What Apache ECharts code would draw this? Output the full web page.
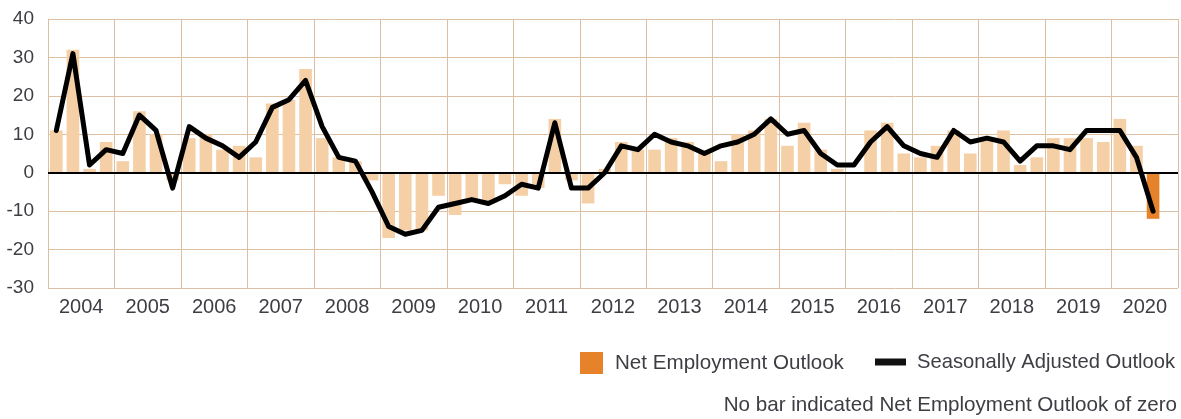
<!DOCTYPE html>
<html>
<head>
<meta charset="utf-8">
<script src="https://cdn.jsdelivr.net/npm/echarts@6/dist/echarts.min.js"></script>
<style>
  html, body { margin: 0; padding: 0; background: #fff; }
  #outlook { width: 1181px; height: 419px; }
</style>
</head>
<body>
<div id="outlook"></div>
<script>
// years on the label axis, each split into four quarters
var years = ['2004', '2005', '2006', '2007', '2008', '2009', '2010', '2011', '2012',
  '2013', '2014', '2015', '2016', '2017', '2018', '2019', '2020']
var quarterNames = ['Q1', 'Q2', 'Q3', 'Q4']

// Net Employment Outlook (bars), 2004 Q1 .. 2020 Q3
var netOutlook = [
  11, 32, 1, 8,
  3, 16, 10, -2,
  9, 10, 6, 7,
  4, 18, 19, 27,
  9, 4, 3, -2,
  -17, -15, -15, -6,
  -11, -7, -8, -3,
  -6, -4, 14, -2,
  -8, 1, 8, 6,
  6, 9, 8, 5,
  3, 10, 11, 14,
  7, 13, 6, 1,
  0, 11, 13, 5,
  4, 7, 11, 5,
  9, 11, 2, 4,
  9, 9, 9, 8,
  14, 7, -12, null
]

// Seasonally Adjusted Outlook (line)
var adjustedOutlook = [
  11, 31, 2, 6,
  5, 15, 11, -4,
  12, 9, 7, 4,
  8, 17, 19, 24,
  12, 4, 3, -5,
  -14, -16, -15, -9,
  -8, -7, -8, -6,
  -3, -4, 13, -4,
  -4, 0, 7, 6,
  10, 8, 7, 5,
  7, 8, 10, 14,
  10, 11, 5, 2,
  2, 8, 12, 7,
  5, 4, 11, 8,
  9, 8, 3, 7,
  7, 6, 11, 11,
  11, 4, -10, null
]

var yTicks = [-30, -20, -10, 0, 10, 20, 30, 40]

var quarters = []
years.forEach(function (y) {
  quarterNames.forEach(function (q) { quarters.push(y + ' ' + q) })
})

var fontName = 'Liberation Sans'
var textColor = '#3d3d44'
var gridColor = '#dcbfa2'
var lightBar = '#f5cfa5'
var strongBar = '#e5822a'

var chart = echarts.init(document.getElementById('outlook'))

// the latest quarter is the highlighted (orange) one
var lastIndex = 0
netOutlook.forEach(function (v, i) { if (v !== null) lastIndex = i })

var barData = netOutlook.map(function (v, i) {
  return {
    value: v,
    itemStyle: { color: i === lastIndex ? strongBar : lightBar }
  }
})

var options = {
  animation: false,
  grid: {
    left: 48,
    right: 3,
    top: 19,
    bottom: 131,
    containLabel: false
  },
  legend: [
    {
      data: ['Net Employment Outlook'],
      left: 580,
      top: 352,
      padding: 0,
      itemWidth: 23,
      itemHeight: 22,
      icon: 'rect',
      textStyle: { fontFamily: fontName, fontSize: 20.6, color: textColor, padding: [0, 0, 0, 7] }
    },
    {
      data: ['Seasonally Adjusted Outlook'],
      left: 875,
      top: 352,
      padding: 0,
      itemWidth: 31,
      itemHeight: 7,
      icon: 'rect',
      itemStyle: { color: '#111' },
      textStyle: { fontFamily: fontName, fontSize: 20.2, color: textColor, padding: [0, 0, 0, 6] }
    }
  ],
  title: {
    text: 'No bar indicated Net Employment Outlook of zero',
    right: 4,
    top: 395,
    padding: 0,
    textStyle: { fontFamily: fontName, fontSize: 20.6, fontWeight: 'normal', color: textColor }
  },
  xAxis: [
    {
      // quarterly axis carrying the data
      type: 'category',
      data: quarters,
      boundaryGap: true,
      axisLine: { show: false },
      axisTick: { show: false },
      axisLabel: { show: false },
      splitLine: { show: false }
    },
    {
      // yearly axis for labels and vertical grid
      type: 'category',
      data: years,
      position: 'bottom',
      boundaryGap: true,
      axisLine: { show: false },
      axisTick: { show: false },
      axisLabel: {
        interval: 0,
        margin: 9,
        fontFamily: fontName,
        fontSize: 20,
        color: textColor
      },
      splitLine: {
        show: true,
        interval: 0,
        lineStyle: { color: gridColor, width: 1 }
      }
    }
  ],
  yAxis: {
    type: 'value',
    min: yTicks[0],
    max: yTicks[yTicks.length - 1],
    interval: 10,
    axisLine: { show: true, lineStyle: { color: gridColor } },
    axisTick: { show: false },
    axisLabel: {
      margin: 14,
      fontFamily: fontName,
      fontSize: 19,
      color: textColor
    },
    splitLine: { lineStyle: { color: gridColor, width: 1 } }
  },
  series: [
    {
      name: 'Net Employment Outlook',
      type: 'bar',
      xAxisIndex: 0,
      barCategoryGap: '24%',
      itemStyle: { color: strongBar },
      data: barData,
      markLine: {
        silent: true,
        symbol: 'none',
        label: { show: false },
        lineStyle: { color: '#000', width: 2, type: 'solid' },
        data: [{ yAxis: 0 }]
      },
      z: 2
    },
    {
      name: 'Seasonally Adjusted Outlook',
      type: 'line',
      xAxisIndex: 0,
      data: adjustedOutlook,
      symbol: 'none',
      lineStyle: { color: '#000', width: 5, join: 'round', cap: 'round' },
      itemStyle: { color: '#000' },
      z: 5
    }
  ]
}

chart.setOption(options, true)
</script>
</body>
</html>
